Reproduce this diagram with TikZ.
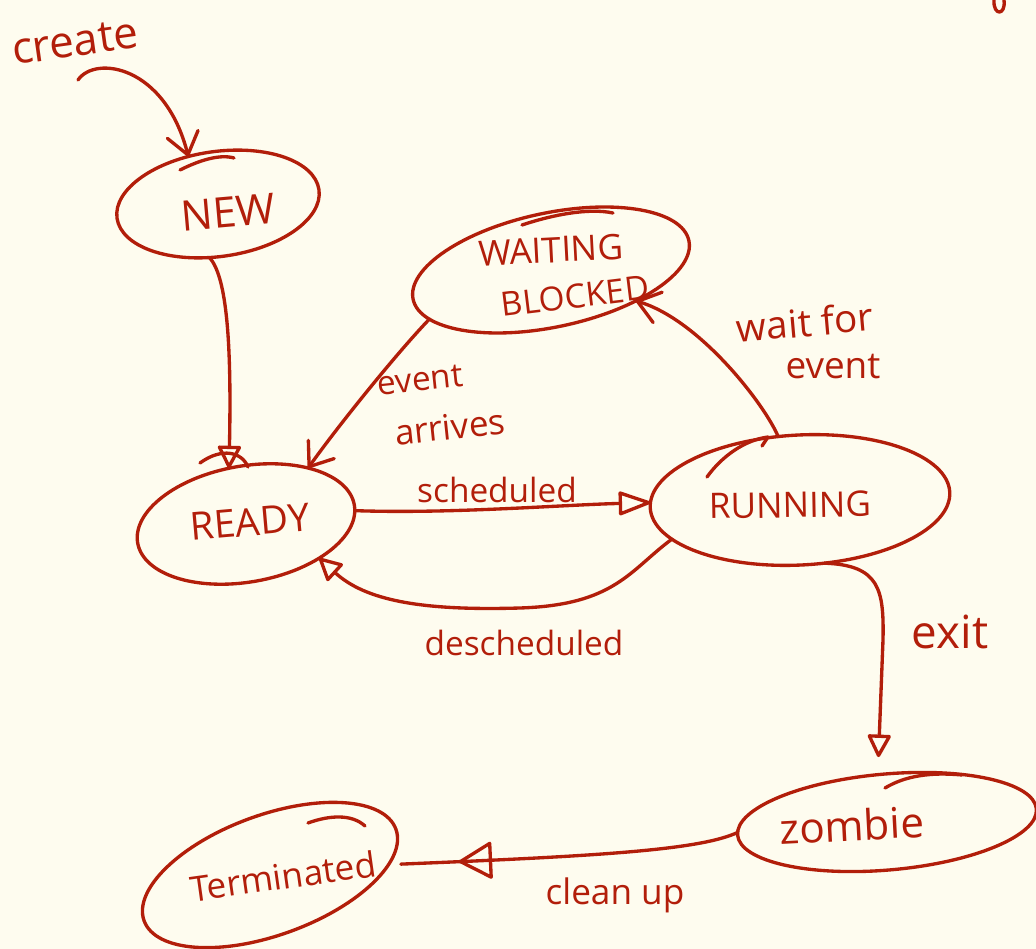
\documentclass[tikz,border=0pt]{standalone}
\usepackage{fontspec}
\setmainfont{Open Sans}
\usetikzlibrary{arrows.meta,shapes.geometric,decorations.markings}
\definecolor{ink}{RGB}{178,30,10}
\definecolor{paper}{RGB}{254,252,239}
\newcommand\setfs[1]{\fontsize{#1}{#1}\selectfont}

\begin{document}
\begin{tikzpicture}[x=0.02cm,y=-0.02cm,
  color=ink, line width=1.9pt, line cap=round, line join=round,
  state/.style={ellipse, draw, inner sep=0pt, outer sep=0pt},
  lbl/.style={inner sep=0pt},
  barb/.style={-{Straight Barb[round,length=12pt,width=18pt]}},
  tri/.style={-{Triangle[open,round,length=14pt,width=14pt]}},
  midtri/.style={postaction={decorate},
    decoration={markings,
      mark=at position 0.8 with {\arrow[line width=1.9pt]{Triangle[open,round,length=20pt,width=22pt]}}}}
]
% paper
\fill[paper] (0,0) rectangle (1036,949);
\useasboundingbox (0,0) rectangle (1036,949);

% states
\node[state, minimum width=4.08cm, minimum height=2.10cm, rotate=8]  (new)     at (218,204) {};
\node[state, minimum width=5.64cm, minimum height=2.28cm, rotate=12] (waiting) at (551,270) {};
\node[state, minimum width=4.40cm, minimum height=2.32cm, rotate=10] (ready)   at (246,524) {};
\node[state, minimum width=6.00cm, minimum height=2.60cm, rotate=3]  (running) at (800,500) {};
\node[state, minimum width=6.00cm, minimum height=1.92cm, rotate=5]  (zombie)  at (887,822) {};
\node[state, minimum width=5.36cm, minimum height=2.40cm, rotate=20] (term)    at (270,875) {};

% overlapping pen strokes where each ellipse was closed
\draw (180,170) .. controls (200,160) and (220,154) .. (234,158);
\draw (522,225) .. controls (555,214) and (590,208) .. (613,213);
\draw (200,463) .. controls (222,447) and (242,452) .. (248,467);
\draw (707,477) .. controls (722,456) and (745,440) .. (768,437) -- (762,446);
\draw (885,788) .. controls (905,776) and (930,772) .. (962,775);
\draw (308,823) .. controls (330,815) and (352,814) .. (365,826);
\draw (994,0) .. controls (993,16) and (1006,16) .. (1004,0);

% state names
\node[lbl, font=\setfs{24}, rotate=5] (new-t)     at (228,212) {NEW};
\node[lbl, font=\setfs{20}, rotate=3] (waiting-t) at (551,250) {WAITING};
\node[lbl, font=\setfs{19}, rotate=7] (blocked-t) at (575,296) {BLOCKED};
\node[lbl, font=\setfs{22}, rotate=5] (ready-t)   at (250,522) {READY};
\node[lbl, font=\setfs{20}, rotate=1] (running-t) at (790,505) {RUNNING};
\node[lbl, font=\setfs{24}, rotate=3] (zombie-t)  at (852,825) {zombie};
\node[lbl, font=\setfs{20}, rotate=8] (term-t)    at (283,876) {Terminated};

% transitions
\coordinate (create-start) at (78,80);
\draw[barb] (create-start) .. controls (95,55) and (165,65) .. (new.114);
\draw[tri] (new.253) .. controls (225,275) and (232,330) .. (ready.97);
\draw[barb] (waiting.190) .. controls (395,355) and (335,430) .. (ready.32);
\draw[-{Triangle[open,round,length=20pt,width=14pt]}]
  (ready.357) .. controls (450,514) and (560,505) .. (running.178);
\draw[tri] (running.194) .. controls (630,570) and (615,605) .. (520,608)
  .. controls (420,611) and (365,600) .. (ready.325);
\draw[barb] (running.106) .. controls (765,405) and (700,320) .. (waiting.328);
\draw[tri, shorten >=10pt] (running.288) .. controls (880,565) and (884,590) .. (883,640) -- (zombie.96);
\draw[midtri, shorten >=7pt] (zombie.179) .. controls (700,850) and (600,856) .. (term.345);

% transition labels
\node[lbl, font=\setfs{25}, rotate=8]  (create-l)   at (75,42)   {create};
\node[lbl, font=\setfs{19}, rotate=6]  (arrive-l1)  at (420,380) {event};
\node[lbl, font=\setfs{20}, rotate=6]  (arrive-l2)  at (450,427) {arrives};
\node[lbl, font=\setfs{19}]            (sched-l)    at (497,490) {scheduled};
\node[lbl, font=\setfs{19}]            (desched-l)  at (524,643) {descheduled};
\node[lbl, font=\setfs{22}, rotate=5]  (wait-l1)    at (805,322) {wait for};
\node[lbl, font=\setfs{21}]            (wait-l2)    at (833,367) {event};
\node[lbl, font=\setfs{26}]            (exit-l)     at (950,632) {exit};
\node[lbl, font=\setfs{20}]            (clean-l)    at (615,895) {clean up};
\end{tikzpicture}
\end{document}
